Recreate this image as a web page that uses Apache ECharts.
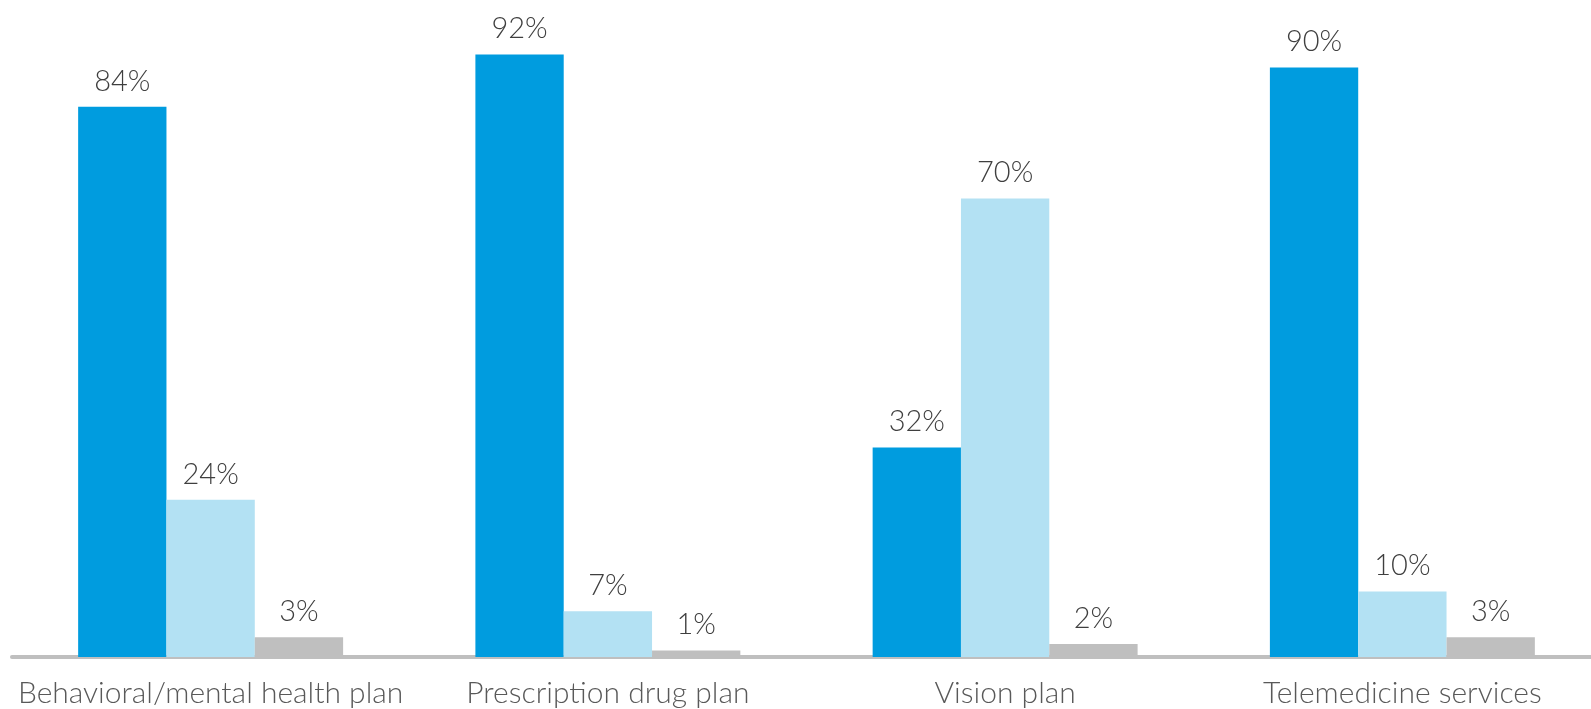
<!DOCTYPE html>
<html>
<head>
<meta charset="utf-8">
<script src="https://cdn.jsdelivr.net/npm/echarts@6/dist/echarts.min.js"></script>
<style>
  html, body { margin: 0; padding: 0; background: #fff; overflow: hidden; }
  /* a little wider than the window: the axis runs off the right edge in the source */
  #chart { width: 1601px; height: 709px; }
</style>
</head>
<body>
<div id="chart"></div>
<script>
  // categories and series values
  const categories = ['Behavioral/mental health plan', 'Prescription drug plan', 'Vision plan', 'Telemedicine services'];
  const seriesA = [84, 92, 32, 90];
  const seriesB = [24, 7, 70, 10];
  const seriesC = [3, 1, 2, 3];
  const colors = ['#009cdf', '#b3e1f3', '#bfbfbf'];

  const chart = echarts.init(document.getElementById('chart'));

  const labelStyle = {
    show: true,
    position: 'top',
    distance: 11,
    formatter: '{c}%',
    color: '#3f3f3f',
    fontSize: 29,
    fontFamily: 'Lato',
    fontWeight: 300
  };

  function makeSeries(name, data, i) {
    return {
      name: name,
      type: 'bar',
      data: data,
      barGap: 0,
      barCategoryGap: '33.3%',
      itemStyle: { color: colors[i] },
      label: labelStyle
    };
  }

  chart.setOption({
    animation: false,
    grid: { left: 12, right: 0, top: 2, bottom: 52 },
    xAxis: {
      type: 'category',
      data: categories,
      axisTick: { show: false },
      axisLine: { lineStyle: { color: '#bfbfbf', width: 4 } },
      axisLabel: {
        interval: 0,
        margin: 21,
        color: '#595959',
        fontSize: 30,
        fontFamily: 'Lato',
        fontWeight: 300
      }
    },
    yAxis: {
      type: 'value',
      min: 0,
      max: 100,
      show: false,
      splitLine: { show: false }
    },
    series: [
      makeSeries('Series 1', seriesA, 0),
      makeSeries('Series 2', seriesB, 1),
      makeSeries('Series 3', seriesC, 2)
    ]
  });
</script>
</body>
</html>
